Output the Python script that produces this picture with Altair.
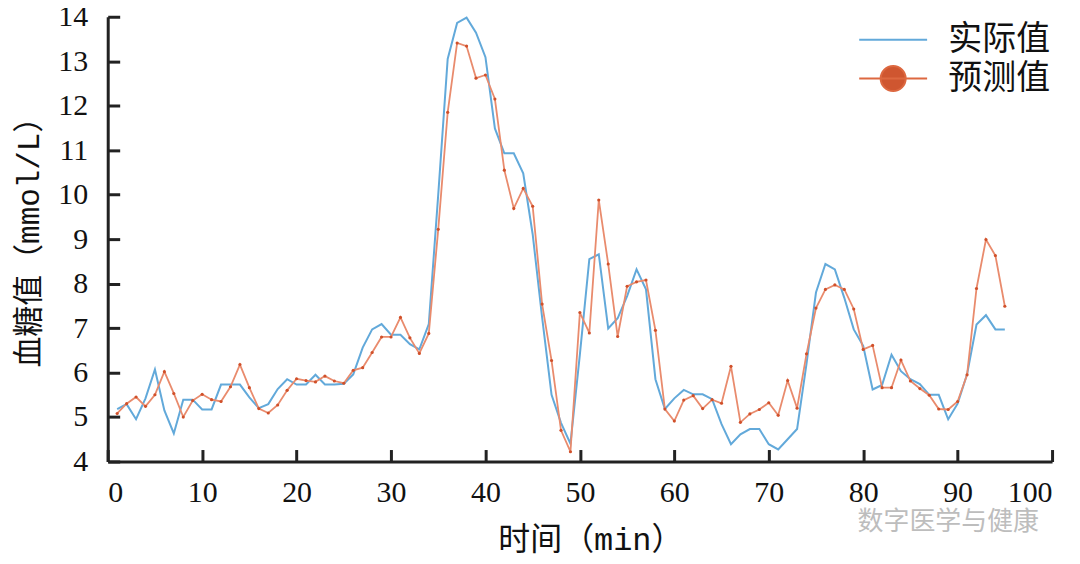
import altair as alt
import pandas as pd

minutes = list(range(1, 96))
actual = [5.18, 5.29, 4.95, 5.42, 6.07, 5.15, 4.63, 5.39, 5.39, 5.17,
          5.17, 5.73, 5.73, 5.73, 5.44, 5.20, 5.29, 5.63, 5.85, 5.73,
          5.73, 5.95, 5.73, 5.73, 5.75, 5.96, 6.56, 6.97, 7.09, 6.85,
          6.85, 6.64, 6.52, 7.09, 10.0, 13.05, 13.86, 13.98, 13.64, 13.09,
          11.49, 10.93, 10.93, 10.48, 9.11, 7.24, 5.50, 4.87, 4.40, 6.41,
          8.55, 8.66, 6.99, 7.22, 7.72, 8.32, 7.87, 5.85, 5.18, 5.42,
          5.61, 5.51, 5.51, 5.40, 4.84, 4.39, 4.61, 4.73, 4.73, 4.39,
          4.27, 4.50, 4.73, 6.20, 7.80, 8.44, 8.32, 7.68, 6.97, 6.60,
          5.62, 5.72, 6.40, 6.03, 5.85, 5.74, 5.50, 5.50, 4.95, 5.30,
          5.96, 7.08, 7.29, 6.97, 6.97]
predicted = [5.08, 5.30, 5.45, 5.24, 5.50, 6.02, 5.53, 5.00, 5.37, 5.51,
             5.39, 5.35, 5.68, 6.18, 5.66, 5.19, 5.09, 5.27, 5.60, 5.86,
             5.82, 5.79, 5.92, 5.81, 5.76, 6.05, 6.11, 6.45, 6.80, 6.80,
             7.24, 6.78, 6.43, 6.88, 9.22, 11.85, 13.41, 13.34, 12.62, 12.69,
             12.15, 10.55, 9.69, 10.14, 9.74, 7.54, 6.27, 4.70, 4.22, 7.35,
             6.89, 9.88, 8.44, 6.81, 7.94, 8.04, 8.08, 6.95, 5.18, 4.91,
             5.38, 5.48, 5.19, 5.39, 5.31, 6.14, 4.88, 5.07, 5.17, 5.32,
             5.04, 5.82, 5.20, 6.42, 7.45, 7.87, 7.97, 7.87, 7.43, 6.52,
             6.61, 5.66, 5.66, 6.28, 5.81, 5.64, 5.49, 5.18, 5.17, 5.35,
             5.95, 7.89, 8.99, 8.63, 7.49]
series_names = ["实际值", "预测值"]
x_ticks = list(range(0, 101, 10))
y_ticks = list(range(4, 15))
x_title = "时间（min）"
y_title = "血糖值（mmol/L）"
watermark = "数字医学与健康"

df = pd.DataFrame({
    "t": minutes + minutes,
    "v": actual + predicted,
    "s": [series_names[0]] * len(actual) + [series_names[1]] * len(predicted),
})

W, H = 947, 446
CJK = "Noto Sans CJK SC"
TITLE_FONT = "Liberation Mono, Noto Sans CJK SC"
NUM_FONT = "Liberation Serif"
AX = "#222222"
BLUE = "#62A9DA"
ORANGE_LINE = "#E98B6D"
ORANGE_DOT = "#D0502A"

x_scale = alt.Scale(domain=[0, 100], nice=False, zero=False)
y_scale = alt.Scale(domain=[4, 14], nice=False, zero=False)

sym_line = "M-2.64,0H1"
sym_dot = "M-2.64,0H1M-1.49,0A0.67,0.67 0 1,0 -0.15,0A0.67,0.67 0 1,0 -1.49,0Z"
shape_scale = alt.Scale(domain=series_names, range=[sym_line, sym_dot])
fill_scale = alt.Scale(domain=series_names, range=["transparent", "#CF5630"])
stroke_scale = alt.Scale(domain=series_names, range=[BLUE, "#DD6840"])

legend = alt.Legend(
    title=None, orient="none", legendX=783, legendY=3,
    symbolSize=1400, symbolStrokeWidth=2, symbolOpacity=1,
    labelFont=CJK, labelFontSize=34, labelColor="#111111",
    labelOffset=20, rowPadding=2, padding=0, symbolOffset=0,
)

base = alt.Chart(df)

actual_line = base.transform_filter(alt.datum.s == series_names[0]).mark_line(
    strokeWidth=2, color=BLUE
).encode(
    x=alt.X("t:Q", scale=x_scale, axis=alt.Axis(
        orient="bottom", values=x_ticks, ticks=False, tickSize=0, grid=False,
        labelPadding=16, domainWidth=3, domainColor=AX,
        labelFont=NUM_FONT, labelFontSize=30, labelColor="#111111",
        title=x_title, titleFont=TITLE_FONT, titleFontSize=32,
        titleFontWeight="normal", titleColor="#111111", titlePadding=17,
        titleX=484)),
    y=alt.Y("v:Q", scale=y_scale, axis=alt.Axis(
        orient="left", values=y_ticks, ticks=False, tickSize=0, grid=False,
        labelPadding=20, domainWidth=3, domainColor=AX,
        labelFont=NUM_FONT, labelFontSize=30, labelColor="#111111",
        title=y_title, titleFont=TITLE_FONT, titleFontSize=31,
        titleFontWeight="normal", titleColor="#111111", titlePadding=12,
        titleY=218)),
)

pred_line = base.transform_filter(alt.datum.s == series_names[1]).mark_line(
    strokeWidth=1.8, color=ORANGE_LINE
).encode(
    x=alt.X("t:Q", scale=x_scale, axis=alt.Axis(
        orient="top", offset=-H, values=x_ticks, labels=False, domain=False,
        ticks=True, tickSize=12, tickWidth=3, tickColor=AX, grid=False, title=None)),
    y=alt.Y("v:Q", scale=y_scale, axis=alt.Axis(
        orient="right", offset=-W, values=y_ticks, labels=False, domain=False,
        ticks=True, tickSize=12, tickWidth=3, tickColor=AX, grid=False, title=None)),
)

pred_dots = base.transform_filter(alt.datum.s == series_names[1]).mark_circle(
    size=10, color=ORANGE_DOT, opacity=1
).encode(
    x=alt.X("t:Q", scale=x_scale, axis=None),
    y=alt.Y("v:Q", scale=y_scale, axis=None),
)

# legend-only layer: no rows are drawn, the legend comes from the explicit scale domains
legend_layer = base.transform_filter("false").mark_point(
    filled=False, strokeWidth=2, opacity=1
).encode(
    x=alt.X("t:Q", scale=x_scale, axis=None),
    y=alt.Y("v:Q", scale=y_scale, axis=None),
    stroke=alt.Stroke("s:N", scale=stroke_scale, legend=legend),
    fill=alt.Fill("s:N", scale=fill_scale, legend=legend),
    shape=alt.Shape("s:N", scale=shape_scale, legend=legend),
)

wm = alt.Chart(pd.DataFrame({"w": [watermark]})).mark_text(
    align="left", baseline="middle", font=CJK, fontSize=26, color="#bdbdbd"
).encode(text="w:N", x=alt.value(752), y=alt.value(507))

chart = alt.layer(actual_line, pred_line, pred_dots, legend_layer, wm).resolve_axis(
    x="independent", y="independent"
).properties(
    width=W, height=H,
    autosize=alt.AutoSizeParams(type="none"),
    padding={"left": 100, "top": 8, "right": 20, "bottom": 98},
    background="white",
).configure_view(stroke=None)

chart.save("out.html", embed_options={"renderer": "svg", "actions": False})
